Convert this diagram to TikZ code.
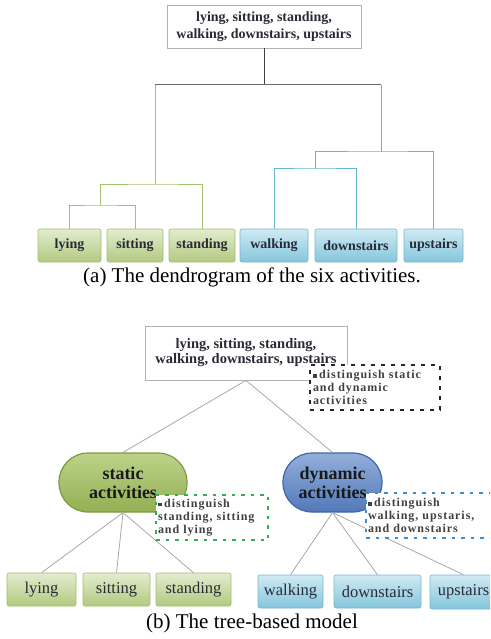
\documentclass[tikz,border=0pt]{standalone}
\usepackage{fontspec}
\setmainfont{Liberation Serif}
\newfontfamily\notefont[LetterSpace=8]{Liberation Serif}
\definecolor{gtop}{HTML}{E2ECCF}
\definecolor{gbot}{HTML}{B2CA80}
\definecolor{gborder}{HTML}{A3BC72}
\definecolor{btop}{HTML}{D0EAF3}
\definecolor{bbot}{HTML}{84C6DC}
\definecolor{bborder}{HTML}{79B5CB}
\definecolor{pgtop}{HTML}{BCD28A}
\definecolor{pgbot}{HTML}{92B053}
\definecolor{pgborder}{HTML}{7D9A43}
\definecolor{pbtop}{HTML}{93AEDA}
\definecolor{pbbot}{HTML}{5279B8}
\definecolor{pbborder}{HTML}{3E68A6}
\definecolor{gline}{HTML}{A2C06E}
\definecolor{bline}{HTML}{64B6D0}
\definecolor{txt}{HTML}{2A2A35}
\definecolor{edge}{HTML}{A8A8A8}
\definecolor{gdash}{HTML}{2FAE55}
\definecolor{bdash}{HTML}{3A8FD2}
\newcommand{\nb}{\rule[0.2ex]{0.35em}{0.3em}\,}
\begin{document}
\begin{tikzpicture}[x=1pt,y=-1pt,
  topbox/.style={draw=black!30, fill=white, line width=0.8pt, align=center, inner sep=0pt, text=txt},
  gleaf/.style={draw=gborder, rounded corners=2pt, top color=gtop, bottom color=gbot, inner sep=0pt, text=txt, line width=0.6pt},
  bleaf/.style={draw=bborder, rounded corners=2pt, top color=btop, bottom color=bbot, inner sep=0pt, text=txt, line width=0.6pt},
  afont/.style={font=\fontsize{14}{17}\selectfont\bfseries},
  bfont/.style={font=\fontsize{16.5}{19}\selectfont},
  pill/.style={rounded corners=29pt, minimum height=59pt, inner sep=0pt, align=center, font=\fontsize{18}{19}\selectfont\bfseries, text=black!90, line width=1.2pt},
  note/.style={fill=white, inner sep=0pt, align=left, font=\notefont\fontsize{12}{13}\selectfont\bfseries, text=black!75, minimum height=45pt},
  dend/.style={line width=1pt},
  edgeb/.style={draw=edge, line width=0.8pt},
  captext/.style={font=\fontsize{21}{24}\selectfont, inner sep=0pt}
]
\clip (0,0) rectangle (490,639);
% ---------- (a) dendrogram ----------
\node[topbox, afont, minimum width=194pt, minimum height=43pt] (ra) at (264,26.5)
  {lying, sitting, standing,\\walking, downstairs, upstairs};
\node[gleaf, afont, minimum width=63pt, minimum height=33pt] (la) at (69.5,245.5) {lying};
\node[gleaf, afont, minimum width=56pt, minimum height=33pt] (sa) at (135,245.5) {sitting};
\node[gleaf, afont, minimum width=66pt, minimum height=33pt] (ta) at (202,245.5) {standing};
\node[bleaf, afont, minimum width=68pt, minimum height=33pt] (wa) at (274,245.5) {walking};
\node[bleaf, afont, minimum width=82pt, minimum height=33pt] (da) at (356,245.5) {downstairs};
\node[bleaf, afont, minimum width=59pt, minimum height=33pt] (ua) at (433.5,245.5) {upstairs};
\coordinate (j0) at (264,85);
\coordinate (jl) at (155,85);
\coordinate (jr) at (381,85);
\coordinate (g1) at (155,184);
\coordinate (g2) at (100,205);
\coordinate (b1) at (381,152);
\coordinate (b2) at (315,169);
\draw[dend, black!75] (ra.south) -- (j0);
\draw[dend, black!60] (jl) -- (jr);
\draw[dend, gline] (la.north) |- (g2) -| (sa.north);
\draw[dend, gline] (g2) |- (g1) -| (ta.north);
\draw[dend, gline] (g1) -- (jl);
\draw[dend, bline] (wa.north) |- (b2) -| (da.north);
\draw[dend, bline] (b2) |- (b1) -| (ua.north);
\draw[dend, bline] (b1) -- (jr);
\node[captext] (capa) at (252,277) {(a) The dendrogram of the six activities.};
% ---------- (b) tree-based model ----------
\node[topbox, font=\fontsize{14.5}{15}\selectfont\bfseries, minimum width=202pt, minimum height=54pt] (rb) at (246,353)
  {lying, sitting, standing,\\walking, downstairs, upstairs};
\node[pill, draw=pgborder, top color=pgtop, bottom color=pgbot, minimum width=128pt] (st) at (123,482.5) {static\\activities};
\node[pill, draw=pbborder, top color=pbtop, bottom color=pbbot, minimum width=99pt] (dy) at (332.5,482.5) {dynamic\\activities};
\node[gleaf, bfont, minimum width=69pt, minimum height=33pt] (lb) at (41.5,589.5) {lying};
\node[gleaf, bfont, minimum width=67pt, minimum height=33pt] (sb) at (116.5,589.5) {sitting};
\node[gleaf, bfont, minimum width=75pt, minimum height=33pt] (tb) at (193.5,589.5) {standing};
\node[bleaf, bfont, minimum width=65pt, minimum height=33pt] (wb) at (290.5,591.5) {walking};
\node[bleaf, bfont, minimum width=87pt, minimum height=33pt] (db) at (377.5,591.5) {downstairs};
\node[bleaf, bfont, minimum width=67pt, minimum height=34pt] (ub) at (463.5,592) {upstairs};
\draw[edgeb] (rb.south) -- (st.north);
\draw[edgeb] (rb.south) -- (dy.north);
\draw[edgeb] (st.south) -- (lb.north);
\draw[edgeb] (st.south) -- (sb.north);
\draw[edgeb] (st.south) -- (tb.north);
\draw[edgeb] (dy.south) -- (wb.north);
\draw[edgeb] (dy.south) -- (db.north);
\draw[edgeb] (dy.south) -- (ub.north);
\node[note, draw=black!85, line width=2pt, dash pattern=on 4pt off 6pt, minimum width=130pt, text width=124pt] (n1) at (375,387.5)
  {\nb distinguish static\\and dynamic\\activities};
\node[note, draw=gdash, line width=1.6pt, dash pattern=on 3.5pt off 6pt, minimum width=112pt, text width=108pt] (n2) at (212,517.5)
  {\nb distinguish\\standing, sitting\\and lying};
\node[note, draw=bdash, line width=1.6pt, dash pattern=on 3.5pt off 6pt, minimum width=126pt, text width=122pt] (n3) at (429,515.5)
  {\nb distinguish\\walking, upstaris,\\and downstairs};
\node[captext] (capb) at (252,623) {(b) The tree-based model};
\end{tikzpicture}
\end{document}
